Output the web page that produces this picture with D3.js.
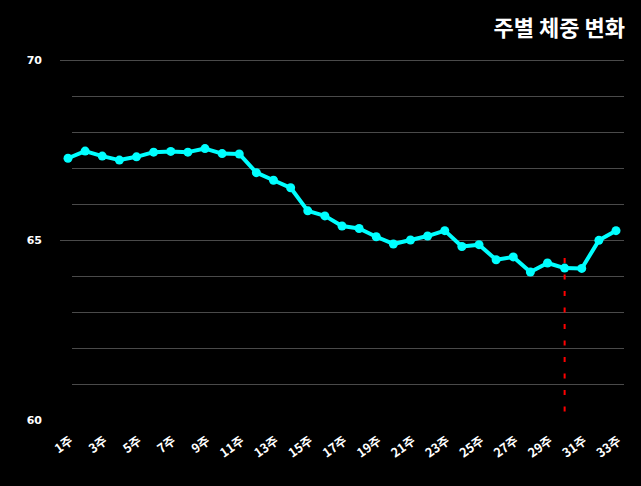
<!DOCTYPE html>
<html>
<head>
<meta charset="utf-8">
<script src="https://cdn.jsdelivr.net/npm/d3@7"></script>
<style>
  html, body { margin: 0; padding: 0; background: #000; }
</style>
</head>
<body>
<div class="chart"></div>
<script>
// weekly weight data
const weeks = ["1주", "2주", "3주", "4주", "5주", "6주", "7주", "8주", "9주", "10주", "11주",
  "12주", "13주", "14주", "15주", "16주", "17주", "18주", "19주", "20주", "21주", "22주",
  "23주", "24주", "25주", "26주", "27주", "28주", "29주", "30주", "31주", "32주", "33주"];
const weights = [67.27, 67.47, 67.33, 67.22, 67.31, 67.44, 67.46, 67.44, 67.54, 67.40, 67.39,
  66.87, 66.66, 66.45, 65.81, 65.67, 65.39, 65.32, 65.09, 64.89, 65.00, 65.11,
  65.26, 64.82, 64.87, 64.45, 64.53, 64.11, 64.36, 64.22, 64.21, 64.99, 65.26];
const yTicks = [61, 62, 63, 64, 65, 66, 67, 68, 69, 70];
const yLabels = [60, 65, 70];
const markerWeek = "30주";
const markerRange = [60, 64.5];
const title = "주별 체중 변화";

const width = 641, height = 486;

const svg = d3.select(".chart")
  .append("svg")
  .attr("width", width)
  .attr("height", height)
  .style("background", "#000");

const x = d3.scalePoint().domain(weeks).range([68, 616]);
const y = d3.scaleLinear().domain([60, 70]).range([420, 60]);

// grid lines
svg.append("g")
  .selectAll("line")
  .data(yTicks)
  .join("line")
  .attr("x1", (d) => (yLabels.includes(d) ? 60 : 72))
  .attr("x2", 624)
  .attr("y1", (d) => y(d) + 0.5)
  .attr("y2", (d) => y(d) + 0.5)
  .attr("stroke", "#4a4a4a")
  .attr("stroke-width", 1);

// y labels
svg.append("g")
  .selectAll("text")
  .data(yLabels)
  .join("text")
  .attr("x", 42)
  .attr("y", (d) => y(d))
  .attr("dy", "0.35em")
  .attr("text-anchor", "end")
  .attr("fill", "#fff")
  .style("font-family", "DejaVu Sans, sans-serif")
  .style("font-weight", "bold")
  .style("font-size", "11px")
  .text((d) => d);

// x labels, every other week
svg.append("g")
  .selectAll("text")
  .data(weeks.filter((d, i) => i % 2 === 0))
  .join("text")
  .attr("transform", (d) => `translate(${x(d) + 6},443) rotate(-35)`)
  .attr("text-anchor", "end")
  .attr("fill", "#fff")
  .style("font-family", "'Noto Sans CJK KR', DejaVu Sans, sans-serif")
  .style("font-weight", "bold")
  .style("font-size", "12.5px")
  .text((d) => d);

// marker line
svg.append("line")
  .attr("x1", x(markerWeek))
  .attr("x2", x(markerWeek))
  .attr("y1", y(markerRange[1]))
  .attr("y2", y(markerRange[0]))
  .attr("stroke", "#ff0000")
  .attr("stroke-width", 2)
  .attr("stroke-dasharray", "5,11.5");

// weight line
svg.append("path")
  .datum(weights)
  .attr("fill", "none")
  .attr("stroke", "#00ffff")
  .attr("stroke-width", 4)
  .attr("stroke-linejoin", "round")
  .attr("d", d3.line()
    .x((d, i) => x(weeks[i]))
    .y((d) => y(d)));

svg.append("g")
  .selectAll("circle")
  .data(weights)
  .join("circle")
  .attr("cx", (d, i) => x(weeks[i]))
  .attr("cy", (d) => y(d))
  .attr("r", 4.5)
  .attr("fill", "#00ffff");

// title
svg.append("text")
  .attr("x", 625)
  .attr("y", 36)
  .attr("text-anchor", "end")
  .attr("fill", "#fff")
  .style("font-family", "'Noto Sans CJK KR', sans-serif")
  .style("font-weight", "bold")
  .style("font-size", "22px")
  .text(title);
</script>
</body>
</html>
